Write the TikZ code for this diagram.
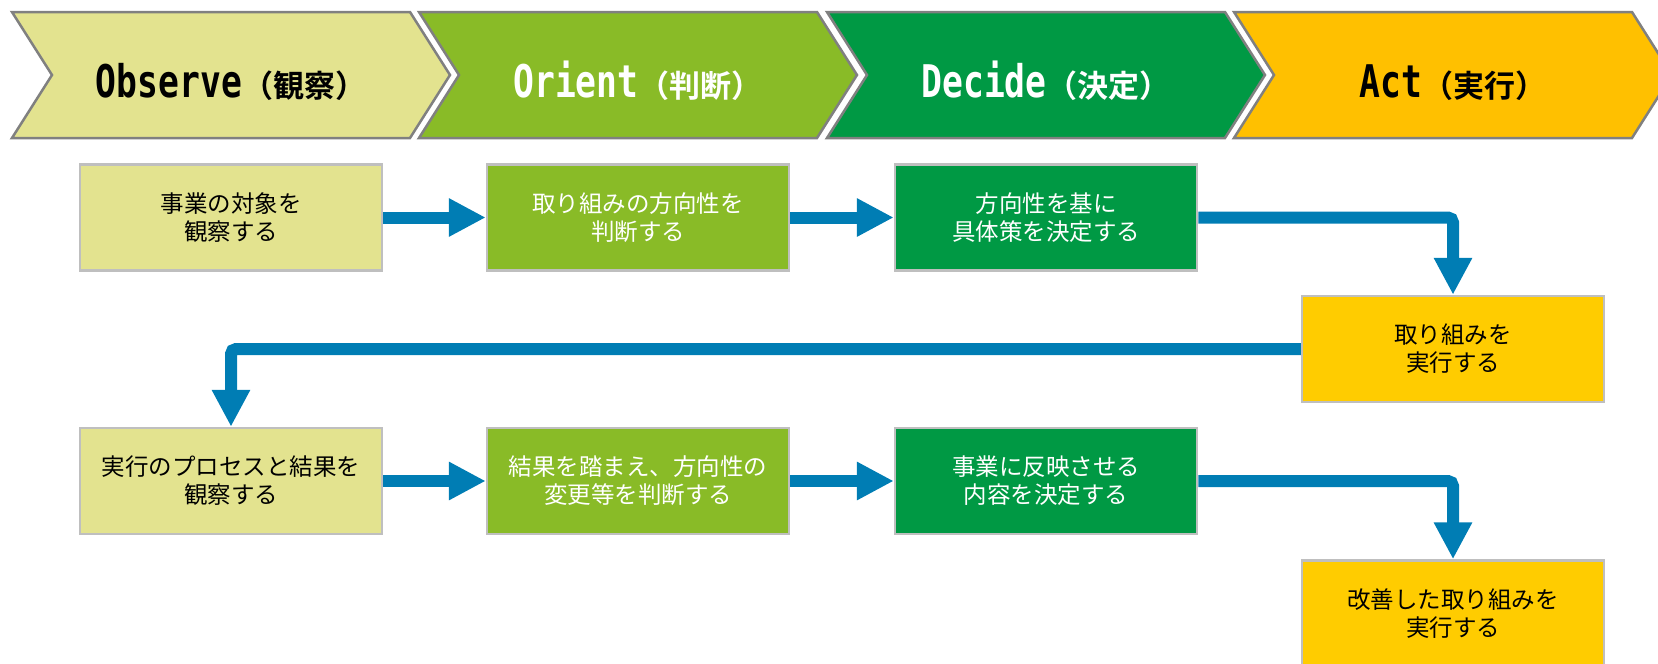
\documentclass[tikz,border=0pt]{standalone}
\usepackage{fontspec}
\usepackage{xcolor}
\usetikzlibrary{arrows.meta}
\newfontfamily\jpfont{Noto Sans CJK JP}
\newfontfamily\jpbold{Noto Sans CJK JP Bold}
\newfontfamily\hdfont[FakeStretch=0.77]{DejaVu Sans Mono Bold}
\newcommand\hdlat[1]{{\hdfont\fontsize{45}{45}\selectfont #1}}
\newcommand\hdjp[1]{{\jpbold\fontsize{31}{31}\selectfont #1}}
\definecolor{obsfill}{RGB}{227,227,143}
\definecolor{orifill}{RGB}{137,187,39}
\definecolor{decfill}{RGB}{0,153,68}
\definecolor{acthead}{RGB}{255,192,0}
\definecolor{actfill}{RGB}{255,204,0}
\definecolor{hdline}{RGB}{128,128,128}
\definecolor{boxline}{RGB}{191,191,191}
\definecolor{flowblue}{RGB}{0,125,180}
\tikzset{
  phase/.style={draw=hdline, line width=2.5pt, line join=miter},
  phaselabel/.style={anchor=base, inner sep=0pt},
  stepbox/.style={draw=boxline, line width=2.5pt, minimum width=302pt, minimum height=106pt,
    inner sep=0pt, align=center, font=\jpfont\fontsize{23.5}{28}\selectfont},
  flow/.style={draw=flowblue, line width=12pt, rounded corners=5pt,
    -{Triangle[length=37pt,width=36pt]}}
}
\begin{document}
\begin{tikzpicture}[x=1pt,y=-1pt]
\clip (0,0) rectangle (1658,664);
\filldraw[phase, fill=obsfill] (12,12) -- (410,12) -- (450,75) -- (410,138) -- (12,138) -- (52,75) -- cycle;
\filldraw[phase, fill=orifill] (419,12) -- (817,12) -- (857,75) -- (817,138) -- (419,138) -- (459,75) -- cycle;
\filldraw[phase, fill=decfill] (827,12) -- (1225,12) -- (1265,75) -- (1225,138) -- (827,138) -- (867,75) -- cycle;
\filldraw[phase, fill=acthead] (1234,12) -- (1632,12) -- (1672,75) -- (1632,138) -- (1234,138) -- (1274,75) -- cycle;
\node[phaselabel, text=black] (hdobs) at (231,97) {\hdlat{Observe}\hdjp{（観察）}};
\node[phaselabel, text=white] (hdori) at (638,97) {\hdlat{Orient}\hdjp{（判断）}};
\node[phaselabel, text=white] (hddec) at (1046,97) {\hdlat{Decide}\hdjp{（決定）}};
\node[phaselabel, text=black] (hdact) at (1453,97) {\hdlat{Act}\hdjp{（実行）}};

\node[stepbox, fill=obsfill, text=black] (obs1) at (231,217.5) {事業の対象を\\観察する};
\node[stepbox, fill=orifill, text=white] (ori1) at (638,217.5) {取り組みの方向性を\\判断する};
\node[stepbox, fill=decfill, text=white] (dec1) at (1046,217.5) {方向性を基に\\具体策を決定する};
\node[stepbox, fill=actfill, text=black] (act1) at (1453,349) {取り組みを\\実行する};
\node[stepbox, fill=obsfill, text=black] (obs2) at (231,481) {実行のプロセスと結果を\\観察する};
\node[stepbox, fill=orifill, text=white] (ori2) at (638,481) {結果を踏まえ、方向性の\\変更等を判断する};
\node[stepbox, fill=decfill, text=white] (dec2) at (1046,481) {事業に反映させる\\内容を決定する};
\node[stepbox, fill=actfill, text=black] (act2) at (1453,613.5) {改善した取り組みを\\実行する};

\draw[flow] (obs1) -- (ori1);
\draw[flow] (ori1) -- (dec1);
\draw[flow] (dec1.east) -| (act1.north);
\draw[flow] (act1.west) -| (obs2.north);
\draw[flow] (obs2) -- (ori2);
\draw[flow] (ori2) -- (dec2);
\draw[flow] (dec2.east) -| (act2.north);

\end{tikzpicture}
\end{document}
